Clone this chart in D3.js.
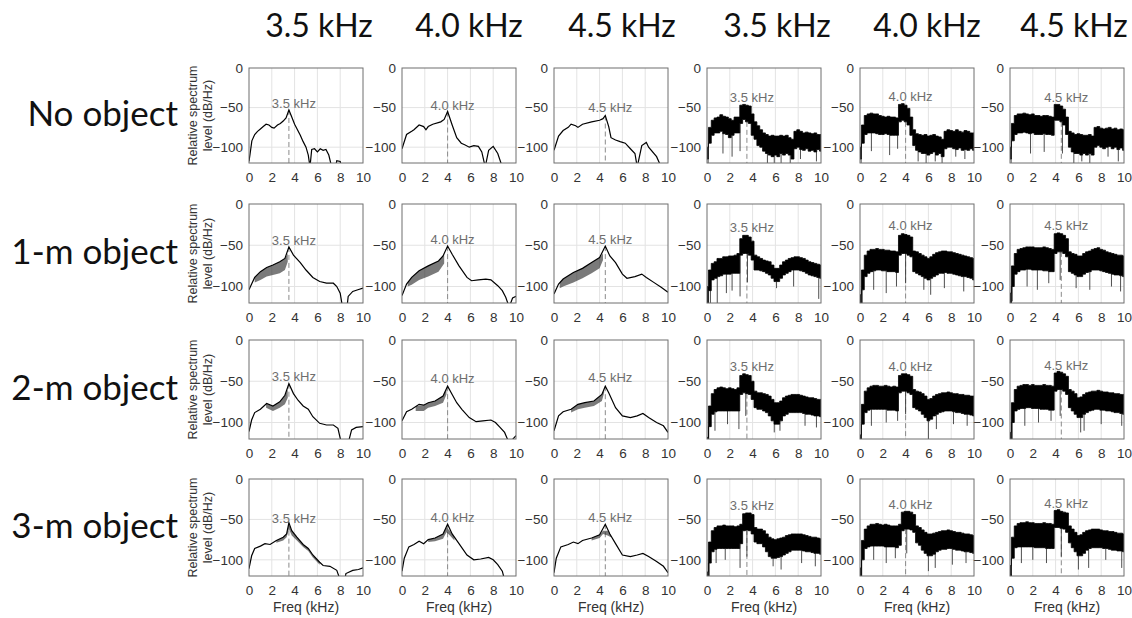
<!DOCTYPE html>
<html><head><meta charset="utf-8">
<script src="https://cdn.jsdelivr.net/npm/d3@7"></script>
<style>body{margin:0;background:#fff}svg{display:block}</style>
</head><body>
<svg id="c" width="1132" height="618"></svg>
<script>
// ---------------- labels ----------------
const rowLabels = ["No object", "1-m object", "2-m object", "3-m object"];
const colTitles = ["3.5 kHz", "4.0 kHz", "4.5 kHz", "3.5 kHz", "4.0 kHz", "4.5 kHz"];
const toneKHz = [3.5, 4.0, 4.5, 3.5, 4.0, 4.5];
const toneLabels = ["3.5 kHz", "4.0 kHz", "4.5 kHz", "3.5 kHz", "4.0 kHz", "4.5 kHz"];
const xTicks = [0, 2, 4, 6, 8, 10];
const yTicks = [0, -50, -100];
const yTitle = ["Relative spectrum", "level (dB/Hz)"];
const xTitle = "Freq (kHz)";
// dB level of the tone annotation text, per row / column
const labelDb = [
  [-50, -53, -56, -43, -42, -43],
  [-50, -49, -48, -34, -32, -32],
  [-50, -52, -51, -38, -37, -36],
  [-54, -53, -53, -38, -37, -36]
];

// ------------- left three columns: smooth spectra [kHz, dB] -------------
const noObj35 = [[0,-118],[0.1,-108],[0.25,-92],[0.5,-84],[0.75,-80],[1.0,-77],[1.25,-74],[1.5,-71],[1.75,-72],[2.0,-75],[2.2,-76],[2.5,-72],[2.75,-70],[3.0,-67],[3.25,-63],[3.5,-53],[3.75,-62],[4.0,-71],[4.25,-78],[4.5,-85],[4.75,-93],[5.0,-100],[5.2,-110],[5.35,-125],[5.5,-103],[5.75,-102],[6.0,-106],[6.25,-102],[6.5,-104],[6.75,-103],[7.0,-110],[7.25,-125],[7.6,-125],[7.7,-117],[8.0,-118],[8.1,-125],[10,-125]];
const noObj40 = [[0,-102],[0.4,-84],[0.85,-80],[1.05,-78],[1.5,-72],[1.9,-74],[2.1,-78],[2.3,-74],[2.7,-71],[3.4,-68],[3.7,-65],[4.0,-55],[4.4,-72],[4.8,-88],[5.2,-95],[5.5,-97],[5.9,-100],[6.3,-98],[6.7,-99],[7.0,-106],[7.3,-125],[7.6,-104],[8.0,-99],[8.4,-108],[8.8,-125],[10,-125]];
const noObj45 = [[0,-104],[0.4,-86],[0.8,-79],[1.25,-75],[1.5,-71],[1.9,-73],[2.1,-75],[2.5,-71],[3.3,-68],[4.0,-66],[4.3,-64],[4.5,-60],[4.8,-74],[5.0,-88],[5.4,-91],[5.8,-93],[6.25,-95],[6.7,-102],[7.1,-108],[7.3,-125],[7.7,-98],[8.1,-94],[8.3,-100],[9.0,-112],[9.4,-125],[10,-125]];
const m1_35 = [[0,-104],[0.23,-97],[0.5,-89],[1.0,-82],[1.55,-77],[2.1,-74],[2.7,-70],[3.15,-66],[3.5,-52],[3.9,-62],[4.5,-71],[5.0,-80],[5.6,-89],[6.2,-94],[6.8,-96],[7.4,-96],[7.7,-100],[8.0,-108],[8.2,-125],[8.6,-125],[8.7,-112],[9.1,-106],[9.55,-104],[10,-102]];
const m1_40 = [[0,-111],[0.4,-97],[0.85,-89],[1.5,-81],[2.3,-75],[3.2,-69],[3.6,-63],[4.0,-51],[4.4,-61],[5.0,-75],[5.7,-89],[6.1,-93],[6.7,-92],[7.35,-91],[7.8,-92],[8.4,-99],[8.8,-105],[9.1,-113],[9.4,-125],[9.7,-114],[10,-112]];
const m1_45 = [[0,-109],[0.4,-97],[0.8,-91],[1.7,-83],[2.5,-78],[3.3,-71],[4.0,-65],[4.5,-51],[4.9,-63],[5.4,-71],[6.0,-85],[6.4,-90],[7.1,-88],[7.7,-85],[8.1,-89],[8.75,-95],[9.4,-101],[10,-107]];
const m2_35 = [[0,-111],[0.23,-97],[0.5,-88],[1.0,-84],[1.55,-77],[2.1,-80],[2.7,-75],[3.15,-67],[3.5,-53],[3.9,-65],[4.3,-73],[4.75,-80],[5.2,-84],[5.6,-93],[6.2,-101],[6.8,-103],[7.4,-103],[7.8,-107],[8.1,-125],[8.7,-125],[9.0,-109],[9.4,-106],[10,-105]];
const m2_40 = [[0,-98],[0.4,-87],[0.85,-84],[1.5,-78],[1.9,-79],[2.3,-76],[2.9,-74],[3.6,-68],[4.0,-56],[4.4,-66],[4.8,-76],[5.25,-84],[5.9,-94],[6.5,-99],[7.1,-98],[7.8,-97],[8.2,-100],[8.6,-106],[9.0,-112],[9.4,-125],[10,-116]];
const m2_45 = [[0,-110],[0.4,-92],[0.8,-87],[1.5,-84],[2.1,-78],[2.7,-76],[3.5,-74],[4.2,-66],[4.5,-56],[4.8,-64],[5.4,-82],[6.0,-92],[6.7,-94],[7.3,-92],[7.8,-89],[8.3,-94],[9.0,-100],[9.6,-104],[10,-112]];
const m3_35 = [[0,-111],[0.23,-95],[0.5,-86],[1.0,-83],[1.4,-80],[1.85,-81],[2.4,-76],[3.0,-72],[3.3,-68],[3.5,-54],[3.75,-64],[4.2,-72],[4.75,-81],[5.2,-86],[5.6,-94],[6.2,-103],[6.5,-107],[7.1,-108],[7.7,-113],[8.0,-125],[8.4,-125],[8.5,-117],[9.1,-113],[9.6,-112],[10,-110]];
const m3_40 = [[0,-114],[0.2,-98],[0.6,-84],[1.05,-81],[1.5,-77],[1.9,-80],[2.3,-75],[2.9,-73],[3.6,-68],[4.0,-56],[4.4,-68],[5.0,-80],[5.7,-94],[6.3,-100],[6.9,-99],[7.6,-97],[8.0,-100],[8.4,-106],[8.8,-114],[9.0,-125],[10,-125]];
const m3_45 = [[0,-116],[0.2,-98],[0.6,-84],[1.25,-81],[1.7,-78],[2.1,-80],[2.5,-76],[3.3,-73],[4.0,-69],[4.5,-56],[4.9,-68],[5.4,-80],[6.0,-94],[6.7,-96],[7.3,-94],[7.8,-92],[8.3,-96],[9.0,-102],[9.6,-108],[10,-116]];

// comb ripple bands [kHz, top dB, bottom dB]
const m1_35r = [[0.5,-89,-95],[1.0,-82,-92],[1.55,-77,-88],[2.1,-74,-86],[2.7,-70,-84],[3.15,-66,-80],[3.4,-60,-70]];
const m1_40r = [[0.5,-95,-100],[0.85,-89,-98],[1.5,-81,-92],[2.3,-75,-88],[3.2,-69,-82],[3.7,-61,-72]];
const m1_45r = [[0.5,-95,-102],[0.8,-91,-100],[1.7,-83,-95],[2.5,-78,-90],[3.3,-71,-84],[4.0,-65,-78],[4.3,-60,-68]];
const m2_35r = [[1.5,-77,-82],[2.1,-80,-86],[2.7,-75,-82],[3.15,-67,-78],[3.4,-60,-70]];
const m2_40r = [[1.2,-80,-86],[1.9,-79,-86],[2.3,-76,-82],[2.9,-74,-80],[3.6,-68,-76],[3.9,-60,-66]];
const m2_45r = [[1.5,-84,-88],[2.1,-78,-84],[2.7,-76,-82],[3.5,-74,-80],[4.2,-66,-74],[4.4,-60,-64]];
const m3_35r = [[2.4,-76,-79],[3.0,-72,-76],[3.3,-68,-72],[3.5,-56,-62],[3.75,-64,-70],[4.2,-72,-76],[4.75,-81,-84],[5.2,-86,-89],[5.6,-94,-97],[6.2,-103,-106]];
const m3_40r = [[2.3,-75,-78],[2.9,-73,-77],[3.6,-68,-74],[3.9,-60,-66],[4.2,-64,-70],[4.6,-72,-76]];
const m3_45r = [[3.3,-73,-76],[4.0,-69,-73],[4.3,-64,-68],[4.7,-64,-70],[5.0,-70,-72]];

// ------------- right three columns: noisy spectra, envelopes on a 0.25 kHz grid -------------
const freqGrid = [0,0.25,0.5,0.75,1,1.25,1.5,1.75,2,2.25,2.5,2.75,3,3.25,3.5,3.75,4,4.25,4.5,4.75,5,5.25,5.5,5.75,6,6.25,6.5,6.75,7,7.25,7.5,7.75,8,8.25,8.5,8.75,9,9.25,9.5,9.75,10];

const nNoObj35Hi = [-100,-75,-66,-63,-62,-59,-61,-62,-64,-66,-62,-62,-47,-46,-47,-48,-58,-68,-73,-78,-82,-84,-86,-85,-86,-86,-85,-86,-85,-88,-90,-80,-78,-80,-82,-81,-82,-83,-82,-84,-84];
const nNoObj35Lo = [-115,-95,-85,-82,-82,-80,-83,-84,-88,-85,-82,-82,-70,-65,-68,-70,-85,-90,-98,-100,-105,-108,-110,-112,-110,-112,-108,-110,-108,-110,-115,-102,-100,-103,-104,-102,-105,-104,-106,-103,-105];
const nNoObj35Sp = [[0.1,-120],[1.4,-108],[2.2,-112],[2.9,-105],[5.3,-120],[5.9,-120],[6.5,-120],[7.3,-120],[8.2,-115],[9.6,-118]];

const nNoObj40Hi = [-100,-72,-60,-58,-57,-58,-58,-60,-61,-62,-61,-62,-62,-63,-46,-45,-47,-51,-62,-78,-83,-84,-85,-84,-86,-85,-84,-86,-87,-90,-80,-78,-79,-80,-78,-80,-81,-79,-80,-82,-82];
const nNoObj40Lo = [-115,-95,-84,-82,-82,-82,-83,-84,-84,-83,-84,-85,-85,-85,-68,-66,-68,-72,-85,-98,-104,-106,-108,-108,-110,-108,-106,-110,-108,-112,-102,-100,-100,-102,-103,-101,-104,-103,-104,-102,-104];
const nNoObj40Sp = [[0.1,-120],[1.0,-105],[2.6,-110],[3.3,-102],[5.1,-118],[5.8,-120],[6.6,-118],[7.2,-120],[8.4,-112],[9.2,-115]];

const nNoObj45Hi = [-100,-70,-60,-58,-58,-57,-58,-59,-58,-60,-60,-61,-60,-60,-61,-62,-46,-46,-48,-52,-62,-80,-82,-84,-83,-84,-85,-85,-84,-86,-75,-74,-76,-77,-76,-75,-77,-76,-78,-77,-78];
const nNoObj45Lo = [-115,-92,-84,-82,-82,-81,-82,-83,-82,-84,-84,-84,-83,-84,-84,-85,-66,-66,-68,-72,-84,-100,-106,-108,-108,-110,-108,-110,-108,-110,-100,-98,-100,-102,-100,-99,-102,-100,-103,-101,-104];
const nNoObj45Sp = [[0.1,-120],[1.8,-108],[3.0,-106],[4.6,-108],[5.6,-120],[6.3,-118],[7.0,-120],[8.6,-112],[9.5,-118]];

const nM1_35Hi = [-100,-80,-72,-70,-66,-66,-64,-64,-63,-63,-62,-60,-42,-38,-38,-40,-45,-62,-64,-66,-68,-69,-70,-74,-78,-78,-74,-70,-68,-66,-65,-64,-64,-65,-66,-68,-70,-71,-72,-73,-74];
const nM1_35Lo = [-120,-105,-92,-90,-88,-87,-85,-85,-85,-84,-84,-84,-62,-60,-60,-62,-68,-80,-80,-81,-82,-84,-86,-90,-94,-94,-90,-86,-84,-82,-80,-80,-80,-81,-82,-84,-86,-87,-88,-89,-90];
const nM1_35Sp = [[0.3,-120],[0.9,-120],[1.7,-108],[2.2,-105],[2.9,-112],[3.55,-95],[6.1,-102],[7.6,-100],[9.8,-115]];

const nM1_40Hi = [-110,-80,-62,-57,-55,-55,-54,-55,-55,-56,-56,-57,-57,-58,-38,-36,-37,-38,-40,-57,-58,-60,-62,-64,-66,-64,-61,-59,-58,-57,-57,-58,-58,-59,-60,-61,-62,-63,-64,-65,-66];
const nM1_40Lo = [-120,-104,-88,-84,-82,-81,-80,-80,-81,-81,-82,-82,-82,-83,-62,-60,-60,-62,-64,-82,-84,-86,-88,-90,-92,-90,-88,-86,-84,-84,-83,-84,-84,-85,-86,-87,-88,-88,-89,-90,-92];
const nM1_40Sp = [[0.2,-120],[1.2,-104],[2.3,-108],[3.2,-100],[4.0,-96],[5.6,-104],[6.2,-110],[7.4,-102],[9.1,-106]];

const nM1_45Hi = [-108,-75,-60,-55,-54,-53,-52,-52,-52,-53,-53,-53,-52,-53,-54,-55,-36,-35,-36,-38,-42,-58,-60,-61,-63,-63,-60,-58,-57,-55,-54,-53,-55,-56,-58,-59,-60,-61,-62,-62,-63];
const nM1_45Lo = [-120,-100,-85,-82,-80,-80,-79,-79,-80,-80,-80,-80,-81,-81,-82,-82,-60,-58,-58,-60,-64,-82,-84,-86,-88,-88,-85,-83,-82,-80,-80,-80,-81,-82,-83,-84,-85,-86,-86,-87,-88];
const nM1_45Sp = [[0.2,-118],[1.5,-100],[2.4,-104],[3.4,-96],[4.4,-92],[5.8,-102],[7.0,-104],[8.9,-100],[9.7,-106]];

const nM2_35Hi = [-118,-80,-65,-60,-58,-57,-58,-59,-58,-59,-60,-58,-43,-41,-42,-43,-50,-62,-64,-64,-65,-66,-68,-72,-76,-76,-74,-70,-68,-67,-66,-66,-66,-67,-68,-69,-70,-70,-71,-72,-72];
const nM2_35Lo = [-120,-105,-90,-87,-86,-86,-86,-86,-86,-86,-86,-86,-66,-64,-65,-66,-72,-82,-84,-84,-86,-88,-92,-98,-102,-102,-98,-92,-90,-88,-88,-88,-88,-88,-89,-90,-90,-91,-92,-92,-93];
const nM2_35Sp = [[0.15,-120],[0.7,-110],[1.8,-102],[2.8,-108],[3.4,-92],[5.9,-112],[6.4,-110],[8.6,-104],[9.6,-106]];

const nM2_40Hi = [-115,-78,-62,-58,-56,-55,-55,-56,-56,-55,-56,-57,-56,-57,-43,-41,-41,-42,-44,-60,-62,-63,-65,-68,-72,-71,-68,-66,-65,-64,-64,-63,-64,-65,-65,-66,-66,-67,-67,-68,-68];
const nM2_40Lo = [-120,-102,-88,-85,-84,-84,-84,-84,-84,-84,-85,-85,-85,-86,-64,-62,-62,-64,-66,-82,-84,-86,-90,-94,-98,-96,-92,-90,-88,-87,-86,-86,-86,-87,-88,-88,-89,-90,-90,-91,-92];
const nM2_40Sp = [[0.1,-120],[1.0,-104],[2.3,-100],[3.3,-98],[4.0,-90],[6.0,-120],[6.7,-108],[8.2,-102],[9.4,-104]];

const nM2_45Hi = [-112,-76,-60,-56,-55,-54,-54,-55,-54,-55,-55,-55,-54,-55,-55,-56,-40,-38,-39,-41,-44,-60,-62,-65,-70,-69,-66,-64,-63,-62,-62,-61,-62,-63,-63,-64,-64,-65,-65,-66,-66];
const nM2_45Lo = [-120,-100,-86,-84,-83,-83,-82,-82,-83,-83,-83,-84,-84,-84,-85,-85,-62,-60,-60,-62,-66,-82,-86,-90,-94,-94,-90,-88,-86,-85,-84,-84,-85,-85,-86,-86,-87,-88,-88,-89,-90];
const nM2_45Sp = [[0.2,-120],[1.3,-104],[2.5,-100],[3.6,-98],[4.4,-92],[6.2,-112],[6.5,-110],[8.0,-102],[9.8,-104]];

const nM3_35Hi = [-115,-78,-64,-60,-58,-58,-57,-58,-58,-58,-59,-58,-56,-43,-42,-42,-44,-60,-62,-62,-64,-68,-72,-74,-75,-74,-73,-72,-70,-69,-68,-68,-68,-68,-69,-70,-71,-72,-72,-73,-74];
const nM3_35Lo = [-120,-104,-90,-87,-86,-86,-86,-86,-86,-86,-86,-86,-80,-64,-63,-64,-68,-78,-80,-80,-84,-90,-96,-98,-98,-97,-96,-94,-92,-90,-88,-88,-88,-88,-89,-90,-90,-91,-92,-92,-93];
const nM3_35Sp = [[0.2,-120],[0.8,-104],[1.6,-100],[2.9,-110],[3.5,-96],[5.8,-108],[6.5,-112],[8.3,-104],[9.5,-108]];

const nM3_40Hi = [-110,-76,-62,-58,-56,-56,-55,-56,-57,-56,-57,-58,-58,-58,-56,-41,-40,-40,-41,-44,-58,-60,-63,-66,-68,-68,-67,-66,-65,-64,-64,-63,-64,-65,-66,-66,-67,-68,-68,-69,-70];
const nM3_40Lo = [-120,-100,-86,-84,-83,-83,-83,-83,-83,-84,-84,-84,-84,-85,-82,-64,-62,-62,-63,-66,-79,-82,-88,-92,-95,-95,-93,-90,-88,-87,-87,-86,-86,-87,-88,-88,-89,-90,-90,-91,-92];
const nM3_40Sp = [[0.15,-120],[1.2,-100],[2.3,-104],[3.1,-98],[4.1,-92],[6.0,-114],[6.6,-110],[8.1,-106],[9.3,-104]];

const nM3_45Hi = [-107,-72,-58,-55,-54,-54,-53,-54,-54,-55,-55,-55,-54,-55,-55,-56,-39,-38,-40,-41,-42,-58,-62,-66,-70,-69,-66,-64,-63,-62,-62,-62,-63,-64,-64,-65,-65,-66,-67,-67,-68];
const nM3_45Lo = [-120,-98,-85,-84,-84,-84,-84,-84,-84,-85,-85,-85,-85,-86,-86,-86,-60,-60,-61,-62,-66,-79,-85,-90,-95,-95,-92,-88,-86,-85,-85,-85,-85,-86,-86,-87,-88,-88,-89,-89,-90];
const nM3_45Sp = [[0.1,-118],[1.0,-104],[2.0,-100],[3.2,-104],[4.5,-96],[6.0,-112],[6.9,-110],[8.4,-100],[9.8,-110]];

// ---------------- panel table ----------------
const panels = [
  [{line: noObj35}, {line: noObj40}, {line: noObj45},
   {hi: nNoObj35Hi, lo: nNoObj35Lo, sp: nNoObj35Sp}, {hi: nNoObj40Hi, lo: nNoObj40Lo, sp: nNoObj40Sp}, {hi: nNoObj45Hi, lo: nNoObj45Lo, sp: nNoObj45Sp}],
  [{line: m1_35, rip: m1_35r}, {line: m1_40, rip: m1_40r}, {line: m1_45, rip: m1_45r},
   {hi: nM1_35Hi, lo: nM1_35Lo, sp: nM1_35Sp}, {hi: nM1_40Hi, lo: nM1_40Lo, sp: nM1_40Sp}, {hi: nM1_45Hi, lo: nM1_45Lo, sp: nM1_45Sp}],
  [{line: m2_35, rip: m2_35r}, {line: m2_40, rip: m2_40r}, {line: m2_45, rip: m2_45r},
   {hi: nM2_35Hi, lo: nM2_35Lo, sp: nM2_35Sp}, {hi: nM2_40Hi, lo: nM2_40Lo, sp: nM2_40Sp}, {hi: nM2_45Hi, lo: nM2_45Lo, sp: nM2_45Sp}],
  [{line: m3_35, rip: m3_35r}, {line: m3_40, rip: m3_40r}, {line: m3_45, rip: m3_45r},
   {hi: nM3_35Hi, lo: nM3_35Lo, sp: nM3_35Sp}, {hi: nM3_40Hi, lo: nM3_40Lo, sp: nM3_40Sp}, {hi: nM3_45Hi, lo: nM3_45Lo, sp: nM3_45Sp}]
];

// ---------------- layout ----------------
const colLeft = [249, 402, 554, 707, 860, 1010];
const panelW = 114;
const rowTop = [68, 204, 340, 479];
const rowBottom = [163, 303, 439, 576];
const colTitleX = [319, 469, 622, 777, 927, 1074];

const svg = d3.select("#c");
const axisFont = "'Liberation Sans', Arial, Helvetica, sans-serif";
const bigFont = "Lato, 'Open Sans', sans-serif";

svg.selectAll("text.coltitle").data(colTitles).join("text")
  .attr("class", "coltitle")
  .attr("x", (d, i) => colTitleX[i]).attr("y", 37)
  .attr("text-anchor", "middle")
  .style("font-family", bigFont).style("font-size", "32px").attr("fill", "#111")
  .text(d => d);

svg.selectAll("text.rowlabel").data(rowLabels).join("text")
  .attr("class", "rowlabel")
  .attr("x", 178).attr("y", (d, i) => (rowTop[i] + rowBottom[i]) / 2 + 10)
  .attr("text-anchor", "end")
  .style("font-family", bigFont).style("font-size", "35px").attr("fill", "#111")
  .text(d => d);

const line = d3.line().x(d => d[0]).y(d => d[1]);

panels.forEach((row, r) => {
  row.forEach((p, c) => {
    const x = d3.scaleLinear().domain([0, 10]).range([colLeft[c], colLeft[c] + panelW]);
    const y = d3.scaleLinear().domain([-120, 0]).range([rowBottom[r], rowTop[r]]);
    const g = svg.append("g");
    const clipId = `clip-${r}-${c}`;
    g.append("clipPath").attr("id", clipId).append("rect")
      .attr("x", x(0)).attr("y", y(0)).attr("width", x(10) - x(0)).attr("height", y(-120) - y(0));

    g.selectAll("line.gx").data(xTicks.slice(1, -1)).join("line")
      .attr("x1", d => x(d)).attr("x2", d => x(d)).attr("y1", y(0)).attr("y2", y(-120))
      .attr("stroke", "#e3e3e3").attr("stroke-width", 1);
    g.selectAll("line.gy").data(yTicks.slice(1)).join("line")
      .attr("y1", d => y(d)).attr("y2", d => y(d)).attr("x1", x(0)).attr("x2", x(10))
      .attr("stroke", "#e3e3e3").attr("stroke-width", 1);

    const plot = g.append("g").attr("clip-path", `url(#${clipId})`);

    const f0 = toneKHz[c];
    let topDb;
    if (p.line) {
      topDb = d3.max(p.line.filter(d => Math.abs(d[0] - f0) < 0.3), d => d[1]);
    } else {
      topDb = p.lo[freqGrid.indexOf(f0)];
    }
    plot.append("line")
      .attr("x1", x(f0)).attr("x2", x(f0)).attr("y1", y(topDb)).attr("y2", y(-120))
      .attr("stroke", "#8a8a8a").attr("stroke-width", 1).attr("stroke-dasharray", "5,3");

    if (p.line) {
      if (p.rip) {
        plot.append("path")
          .attr("d", d3.area().x(d => x(d[0])).y0(d => y(d[2])).y1(d => y(d[1]))(p.rip))
          .attr("fill", "#222").attr("fill-opacity", 0.6);
      }
      plot.append("path")
        .attr("d", line(p.line.map(d => [x(d[0]), y(d[1])])))
        .attr("fill", "none").attr("stroke", "#000").attr("stroke-width", 1.2);
    } else {
      const pts = freqGrid.map((f, i) => [f, p.hi[i], p.lo[i]]);
      plot.selectAll("line.sp").data(p.sp).join("line")
        .attr("x1", d => x(d[0])).attr("x2", d => x(d[0]))
        .attr("y1", d => y(p.lo[Math.round(d[0] * 4)]))
        .attr("y2", d => y(d[1]))
        .attr("stroke", "#3a3a3a").attr("stroke-width", 0.9);
      plot.append("path")
        .attr("d", d3.area().curve(d3.curveStep).x(d => x(d[0])).y0(d => y(d[2])).y1(d => y(d[1]))(pts))
        .attr("fill", "#000").attr("stroke", "#000").attr("stroke-width", 0.8);
    }

    g.append("text")
      .attr("x", x(f0) + 5).attr("y", y(labelDb[r][c]))
      .attr("text-anchor", "middle")
      .style("font-family", axisFont).style("font-size", "13px").attr("fill", "#6e6e6e")
      .text(toneLabels[c]);

    g.append("rect")
      .attr("x", x(0)).attr("y", y(0)).attr("width", x(10) - x(0)).attr("height", y(-120) - y(0))
      .attr("fill", "none").attr("stroke", "#6f6f6f").attr("stroke-width", 1);

    const ax = g.append("g").attr("transform", `translate(0,${y(-120)})`)
      .call(d3.axisBottom(x).tickValues(xTicks).tickSize(0).tickPadding(9).tickFormat(d3.format("d")));
    ax.select(".domain").remove();
    ax.selectAll("text").style("font-family", axisFont).style("font-size", "13.5px").attr("fill", "#333");

    const ay = g.append("g").attr("transform", `translate(${x(0)},0)`)
      .call(d3.axisLeft(y).tickValues(yTicks).tickSize(0).tickPadding(6).tickFormat(d3.format("d")));
    ay.select(".domain").remove();
    ay.selectAll("text").style("font-family", axisFont).style("font-size", "13.5px").attr("fill", "#333");

    if (c === 0) {
      const cy = (y(0) + y(-120)) / 2;
      yTitle.forEach((t, k) => {
        g.append("text")
          .attr("transform", `translate(${197 + k * 15},${cy}) rotate(-90)`)
          .attr("text-anchor", "middle")
          .style("font-family", axisFont).style("font-size", "12.5px").attr("fill", "#333")
          .text(t);
      });
    }
    if (r === 3) {
      g.append("text")
        .attr("x", (x(0) + x(10)) / 2).attr("y", 612)
        .attr("text-anchor", "middle")
        .style("font-family", axisFont).style("font-size", "14px").attr("fill", "#333")
        .text(xTitle);
    }
  });
});
</script>
</body></html>
